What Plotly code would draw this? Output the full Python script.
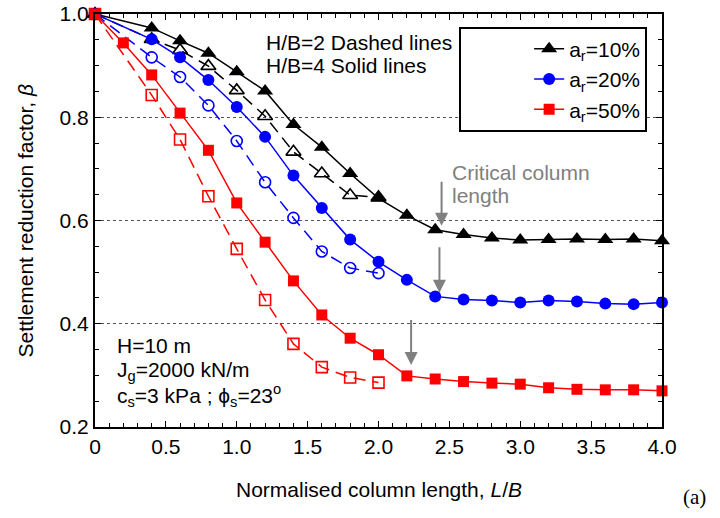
import plotly.graph_objects as go

# ---- data ----
x_solid = [0, 0.4, 0.6, 0.8, 1.0, 1.2, 1.4, 1.6, 1.8, 2.0, 2.2, 2.4, 2.6, 2.8, 3.0, 3.2, 3.4, 3.6, 3.8, 4.0]
b10_solid = [1.0, 0.973, 0.948, 0.924, 0.888, 0.851, 0.786, 0.742, 0.691, 0.643, 0.610, 0.582, 0.573, 0.566,
             0.562, 0.563, 0.564, 0.563, 0.564, 0.561]
b20_solid = [1.0, 0.951, 0.916, 0.872, 0.820, 0.762, 0.687, 0.624, 0.563, 0.520, 0.485, 0.453, 0.447, 0.445,
             0.441, 0.445, 0.443, 0.439, 0.438, 0.441]
x_red_solid = [0, 0.2, 0.4, 0.6, 0.8, 1.0, 1.2, 1.4, 1.6, 1.8, 2.0, 2.2, 2.4, 2.6, 2.8, 3.0, 3.2, 3.4, 3.6, 3.8, 4.0]
b50_solid = [1.0, 0.944, 0.882, 0.808, 0.736, 0.634, 0.558, 0.483, 0.417, 0.372, 0.340, 0.299, 0.293, 0.288,
             0.285, 0.283, 0.276, 0.273, 0.272, 0.272, 0.270]

x_dash = [0, 0.4, 0.6, 0.8, 1.0, 1.2, 1.4, 1.6, 1.8, 2.0]
b10_dash = [1.0, 0.951, 0.930, 0.899, 0.852, 0.802, 0.733, 0.691, 0.649, 0.645]
b20_dash = [1.0, 0.916, 0.878, 0.823, 0.754, 0.674, 0.605, 0.540, 0.508, 0.498]
b50_dash = [1.0, 0.843, 0.757, 0.647, 0.545, 0.446, 0.361, 0.316, 0.296, 0.286]

series_names = ["a<sub>r</sub>=10%", "a<sub>r</sub>=20%", "a<sub>r</sub>=50%"]

# critical column length arrows: (x, tail beta, tip beta)
arrow_x = [2.445, 2.43, 2.23]
arrow_tail = [0.678, 0.551, 0.410]
arrow_tip = [0.590, 0.460, 0.320]

x_ticks = [0, 0.5, 1.0, 1.5, 2.0, 2.5, 3.0, 3.5, 4.0]
x_ticklabels = ["0", "0.5", "1.0", "1.5", "2.0", "2.5", "3.0", "3.5", "4.0"]
y_ticks = [0.2, 0.4, 0.6, 0.8, 1.0]
y_ticklabels = ["0.2", "0.4", "0.6", "0.8", "1.0"]

FONT = "Liberation Sans, Arial, sans-serif"
FS = 21
BLACK, BLUE, RED = "#000000", "#0000FF", "#FF0000"
GRAY = "#808080"

fig = go.Figure()

# dashed (H/B=2), hollow markers
dash_pat = "12px,7px"
for x, y, c, sym, sz in [
    (x_dash, b10_dash, BLACK, "triangle-up-open", 13),
    (x_dash, b20_dash, BLUE, "circle-open", 11),
    (x_dash, b50_dash, RED, "square-open", 11),
]:
    fig.add_trace(go.Scatter(x=x, y=y, mode="lines+markers",
                             line=dict(color=c, width=1.5, dash=dash_pat),
                             marker=dict(symbol=sym, size=sz, color=c, line=dict(width=1.6, color=c)),
                             showlegend=False, cliponaxis=False, hoverinfo="skip"))

# solid (H/B=4), filled markers
for x, y, c, sym, sz, nm in [
    (x_solid, b10_solid, BLACK, "triangle-up", 14, series_names[0]),
    (x_solid, b20_solid, BLUE, "circle", 12, series_names[1]),
    (x_red_solid, b50_solid, RED, "square", 11, series_names[2]),
]:
    fig.add_trace(go.Scatter(x=x, y=y, mode="lines+markers", name=nm,
                             line=dict(color=c, width=1.5),
                             marker=dict(symbol=sym, size=sz, color=c, line=dict(width=0)),
                             cliponaxis=False))

annotations = []
def txt(x, y, s, color=BLACK, size=FS, xanchor="left"):
    annotations.append(dict(x=x, y=y, xref="x", yref="y", text=s, showarrow=False,
                            xanchor=xanchor, yanchor="middle",
                            font=dict(family=FONT, size=size, color=color)))

txt(1.19, 0.9456, "H/B=2 Dashed lines")
txt(1.19, 0.901, "H/B=4 Solid lines")
txt(2.505, 0.693, "Critical column", color=GRAY)
txt(2.505, 0.6485, "length", color=GRAY)
txt(0.14, 0.3573, "H=10 m")
txt(0.14, 0.3087, "J<sub>g</sub>=2000 kN/m")
txt(0.14, 0.2608, "c<sub>s</sub>=3 kPa ; \u03d5<sub>s</sub>=23<sup>o</sup>")

for ax_, t0, t1 in zip(arrow_x, arrow_tail, arrow_tip):
    annotations.append(dict(x=ax_, y=t1, ax=ax_, ay=t0, xref="x", yref="y", axref="x", ayref="y",
                            text="", showarrow=True, arrowhead=2, arrowsize=1.3, arrowwidth=2,
                            arrowcolor=GRAY))

# axis titles
annotations.append(dict(x=0.5, y=-0.1525, xref="paper", yref="paper",
                        text="Normalised column length, <i>L</i>/<i>B</i>", showarrow=False,
                        xanchor="center", yanchor="middle", font=dict(family=FONT, size=FS)))
annotations.append(dict(x=-0.1217, y=0.5, xref="paper", yref="paper", textangle=-90,
                        text="Settlement reduction factor, <i>\u03b2</i>", showarrow=False,
                        xanchor="center", yanchor="middle", font=dict(family=FONT, size=FS)))

annotations.append(dict(x=1.058, y=-0.17, xref="paper", yref="paper", text="(a)", showarrow=False,
                        xanchor="center", yanchor="middle",
                        font=dict(family="Liberation Serif, Times New Roman, serif", size=21, color=BLACK)))

fig.update_layout(
    width=720, height=518,
    margin=dict(l=95, r=58, t=14, b=91, autoexpand=False),
    paper_bgcolor="white", plot_bgcolor="white",
    font=dict(family=FONT, size=FS, color=BLACK),
    annotations=annotations,
    legend=dict(x=0.9735, y=0.969, xanchor="right", yanchor="top",
                bgcolor="white", bordercolor="black", borderwidth=1.8,
                font=dict(family=FONT, size=FS), tracegroupgap=0, itemwidth=30,
                title=dict(text="&nbsp;" * 10, side="left", font=dict(size=FS))),
)

fig.update_xaxes(range=[0, 4], tickvals=x_ticks, ticktext=x_ticklabels, automargin=False,
                 ticks="inside", ticklen=6, tickwidth=1.2, tickcolor="black",
                 minor=dict(dtick=0.1, ticks="inside", ticklen=4, tickwidth=1, tickcolor="black"),
                 showline=True, linecolor="black", linewidth=2.2, mirror="ticks",
                 showgrid=False, zeroline=False,
                 tickfont=dict(family=FONT, size=FS))
fig.update_yaxes(range=[0.2, 1.0], tickvals=y_ticks, ticktext=y_ticklabels, automargin=False,
                 ticks="inside", ticklen=6, tickwidth=1.2, tickcolor="black",
                 minor=dict(dtick=0.05, ticks="inside", ticklen=4, tickwidth=1, tickcolor="black",
                            showgrid=False),
                 showline=True, linecolor="black", linewidth=2.2, mirror="ticks",
                 showgrid=True, gridcolor="#555555", gridwidth=1, griddash="dot",
                 zeroline=False,
                 tickfont=dict(family=FONT, size=FS))

fig.write_html("out.html")
